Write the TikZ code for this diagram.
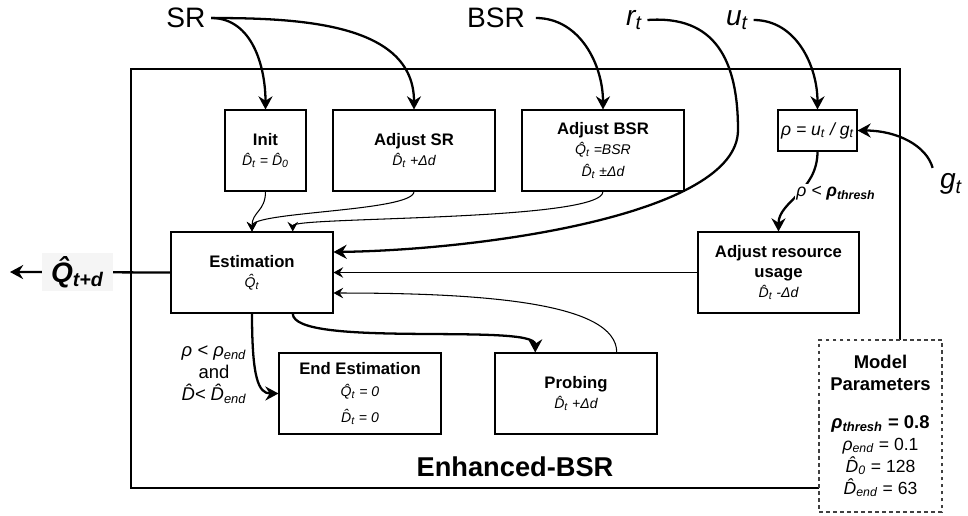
\documentclass[tikz,border=0pt]{standalone}
\usepackage{fontspec}
\setmainfont{Liberation Sans}
\usetikzlibrary{arrows.meta,calc}

\newcommand{\hD}{\^{D}}
\newcommand{\hQ}{\^{Q}}
\newcommand{\sbs}[1]{\textsubscript{#1}}
\newcommand{\petit}{\fontsize{8}{10}\selectfont\itshape}

\begin{document}
\begin{tikzpicture}[x=0.02cm, y=-0.02cm,
  bloc/.style={draw, line width=0.6pt, align=center, inner sep=1pt,
    font=\fontsize{9.5}{11.5}\selectfont},
  fleche/.style={line width=1.3pt, -{Stealth[length=7.5pt,width=8pt,inset=2.5pt]}},
  fin/.style={line width=0.6pt, -{Stealth[length=5.5pt,width=6pt,inset=2pt]}},
  entree/.style={font=\fontsize{16}{19}\selectfont, inner sep=3pt}]
  \useasboundingbox (0,0) rectangle (968,515);

  % Le cadre
  \draw[line width=0.6pt] (131,69) rectangle (900,488);
  \node[font=\fontsize{15.5}{18}\selectfont\bfseries] (titre) at (515,467) {Enhanced-BSR};

  % Les entrees
  \node[entree] (sr) at (186,18) {SR};
  \node[entree, inner xsep=6pt] (bsr) at (496,18) {BSR};
  \node[entree] (rt) at (634,20) {\textit{r\sbs{t}}};
  \node[entree] (ut) at (737,20) {\textit{u\sbs{t}}};
  \node[entree] (gt) at (951,184) {\textit{g\sbs{t}}};

  % Les boites
  \node[bloc, minimum width=1.62cm, minimum height=1.62cm] (init) at (265.5,150.5)
    {\textbf{Init}\\{\petit \hD\sbs{t} = \hD\sbs{0}}};
  \node[bloc, minimum width=3.24cm, minimum height=1.62cm] (adjsr) at (414,150.5)
    {\textbf{Adjust SR}\\{\petit \hD\sbs{t} +Δd}};
  \node[bloc, minimum width=3.24cm, minimum height=1.62cm] (adjbsr) at (603,150.5)
    {\textbf{Adjust BSR}\\{\petit \hQ\sbs{t} =BSR}\\[1pt]{\petit \hD\sbs{t} ±Δd}};
  \node[bloc, minimum width=1.58cm, minimum height=0.82cm] (rho) at (817.5,130.5)
    {\fontsize{10}{12}\selectfont\itshape ρ = u\sbs{t} / g\sbs{t}};
  \node[bloc, minimum width=3.24cm, minimum height=1.62cm] (est) at (252,272.5)
    {\textbf{Estimation}\\{\petit \hQ\sbs{t}}};
  \node[bloc, minimum width=3.22cm, minimum height=1.62cm] (adjres) at (778.5,272.5)
    {\textbf{Adjust resource}\\\textbf{usage}\\{\petit \hD\sbs{t} -Δd}};
  \node[bloc, minimum width=3.24cm, minimum height=1.62cm] (endest) at (360,393.5)
    {\textbf{End Estimation}\\[1pt]{\petit \hQ\sbs{t} = 0}\\[3pt]{\petit \hD\sbs{t} = 0}};
  \node[bloc, minimum width=3.24cm, minimum height=1.62cm] (probe) at (576,393.5)
    {\textbf{Probing}\\{\petit \hD\sbs{t} +Δd}};
  \node[bloc, dashed, dash pattern=on 2pt off 2pt, draw=black!75, fill=white,
    minimum width=2.46cm, minimum height=3.44cm, font=\fontsize{10.5}{12.5}\selectfont]
    (params) at (880.5,426)
    {\textbf{Model}\\\textbf{Parameters}\\[9pt]
     {\bfseries\itshape ρ\sbs{thresh}\upshape\ = 0.8}\\
     {\fontsize{10}{11.5}\selectfont\textit{ρ\sbs{end}} = 0.1}\\
     {\fontsize{10}{11.5}\selectfont\textit{\hD\sbs{0}} = 128}\\
     {\fontsize{10}{11.5}\selectfont\textit{\hD\sbs{end}} = 63}};

  % Les fleches epaisses
  \draw[fleche] (sr.east) to[out=0, in=90] (init.north);
  \draw[fleche] (sr.east) to[out=0, in=90] (adjsr.north);
  \draw[fleche] (bsr.east) to[out=0, in=90] (adjbsr.north);
  \draw[fleche] (rt.east) .. controls (715,15) and (738,60) .. (738,130)
    .. controls (738,215) and (480,250) .. ($(est.east)!0.5!(est.north east)$);
  \draw[fleche] (ut.east) to[out=0, in=90] (rho.north);
  \draw[fleche] ([xshift=-1pt]gt.north west) .. controls +(-6,-22) and +(40,0) .. (rho.east);
  \draw[fleche] (rho.south) .. controls +(0,40) and +(0,-30) .. (adjres.north);
  \node[fill=white, inner sep=1pt, font=\fontsize{10}{12}\selectfont\itshape] (seuil) at (836,193)
    {ρ < \textbf{ρ\sbs{thresh}}};
  \draw[fleche] ($(est.south)!0.5!(est.south east)$) .. controls +(0,35) and +(0,-30)
    .. ($(probe.north)!0.5!(probe.north west)$);
  \draw[fleche] (est.south) .. controls +(0,65) and +(-20,0) .. (endest.west);
  \node[align=center, font=\fontsize{10.5}{12.5}\selectfont] (cond) at (214,375)
    {\textit{ρ < ρ\sbs{end}}\\and\\\textit{\hD< \hD\sbs{end}}};

  % La sortie
  \coordinate (sortie) at (10,272);
  \draw[fleche] (est.west) -- (sortie)
    node[pos=0.58, fill=black!4, inner xsep=5pt, inner ysep=2pt,
      font=\fontsize{16}{18}\selectfont\bfseries\itshape] (qhat)
    {\hQ\sbs{t+d}};

  % Les fleches fines
  \draw[fin] (init.south) .. controls +(0,20) and +(0,-20) .. (est.north);
  \draw[fin] (adjsr.south) .. controls +(0,20) and +(0,-20) .. (est.north);
  \draw[fin] (adjbsr.south) .. controls +(0,30) and +(0,-15) .. ($(est.north)!0.5!(est.north east)$);
  \draw[fin] (adjres.west) -- (est.east);
  \draw[fin] ($(probe.north)!0.5!(probe.north east)$) .. controls +(0,-50) and +(150,0)
    .. ($(est.east)!0.5!(est.south east)$);

\end{tikzpicture}
\end{document}
